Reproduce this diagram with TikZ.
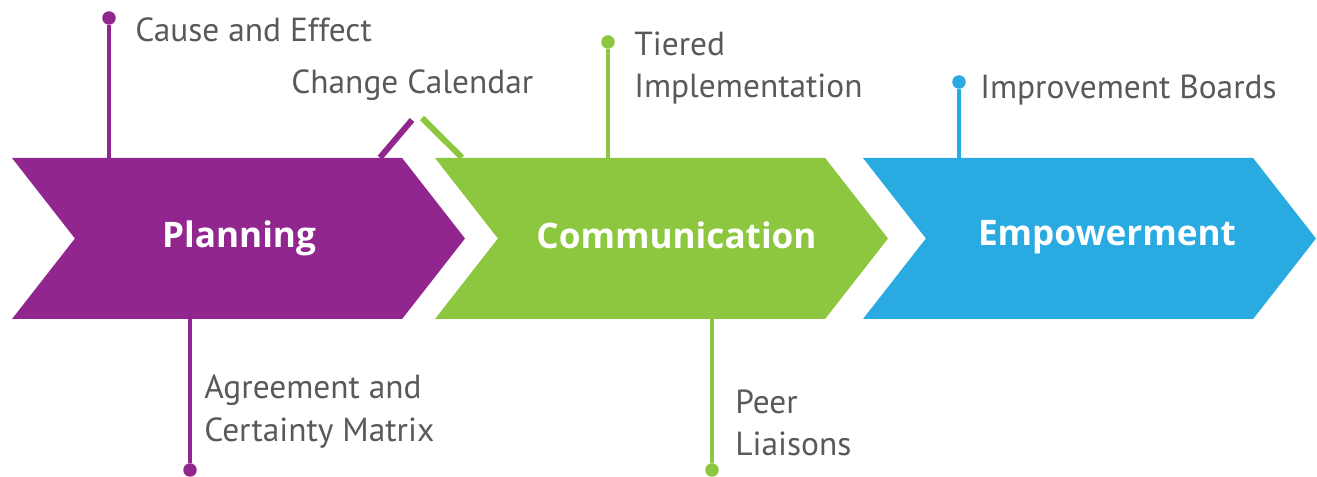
\documentclass[tikz,border=0pt]{standalone}
\usepackage{fontspec}
\setmainfont{PT Sans}
\newfontfamily\stagefont{Open Sans}
\usetikzlibrary{shapes.symbols, positioning, calc}
\definecolor{planpurple}{RGB}{145,38,143}
\definecolor{commgreen}{RGB}{141,198,63}
\definecolor{empblue}{RGB}{41,171,226}
\definecolor{labelgray}{RGB}{88,89,91}

\begin{document}
\begin{tikzpicture}[
    stage/.style={signal, signal to=east, signal from=west, signal pointer angle=104,
        minimum width=9.06cm, minimum height=3.22cm, inner sep=0pt, draw=none},
    stagetext/.style={text=white, font=\stagefont\bfseries\fontsize{20}{24}\selectfont},
    stem/.style={line width=2.8pt},
    tick/.style={line width=3.4pt},
    dot/.style={circle, minimum size=0.27cm, inner sep=0pt},
    item/.style={anchor=west, inner sep=0pt, align=left, text=labelgray,
        font=\fontsize{19}{24}\selectfont},
]
\useasboundingbox (0,0) rectangle (26.34,9.54);

% ============================================================
% Stage arrows
% ============================================================
\node[stage, fill=planpurple] (plan) at (4.77,4.77) {};
\node[stage, fill=commgreen] (comm) at (13.23,4.77) {};
\node[stage, fill=empblue] (emp) at (21.79,4.77) {};

\node[stagetext] (plantxt) at (4.78,4.78) {Planning};
\node[stagetext] (commtxt) at (13.53,4.84) {Communication};
\node[stagetext] (emptxt) at (22.14,4.80) {Empowerment};

% ============================================================
% Stems and dots
% ============================================================
% Planning
\node[dot, fill=planpurple] (causedot) at (2.18,9.18) {};
\draw[stem, planpurple] (plan.north -| causedot) -- (causedot);
\node[item] (cause) at (2.70,8.94) {Cause and Effect};

\node[dot, fill=planpurple] (agreedot) at (3.80,0.14) {};
\draw[stem, planpurple] (plan.south -| agreedot) -- (agreedot);
\node[item] (agree) at (4.08,1.31) {Agreement and\\Certainty Matrix};

% Change calendar, shared by planning and communication
\coordinate (calp) at (8.24,7.14);
\coordinate (calg) at (8.44,7.18);
\draw[tick, planpurple] (plan.north -| 7.60,0) -- (calp);
\draw[tick, commgreen] (comm.north -| 9.24,0) -- (calg);
\node[item] (calendar) at (5.82,7.84) {Change Calendar};

% Communication
\node[dot, fill=commgreen] (tierdot) at (12.16,8.70) {};
\draw[stem, commgreen] (comm.north -| tierdot) -- (tierdot);
\node[item] (tier) at (12.68,8.18) {Tiered\\Implementation};

\node[dot, fill=commgreen] (peerdot) at (14.24,0.14) {};
\draw[stem, commgreen] (comm.south -| peerdot) -- (peerdot);
\node[item] (peer) at (14.70,1.09) {Peer\\Liaisons};

% Empowerment
\node[dot, fill=empblue] (boarddot) at (19.18,7.90) {};
\draw[stem, empblue] (emp.north -| boarddot) -- (boarddot);
\node[item] (board) at (19.60,7.74) {Improvement Boards};

\end{tikzpicture}
\end{document}
